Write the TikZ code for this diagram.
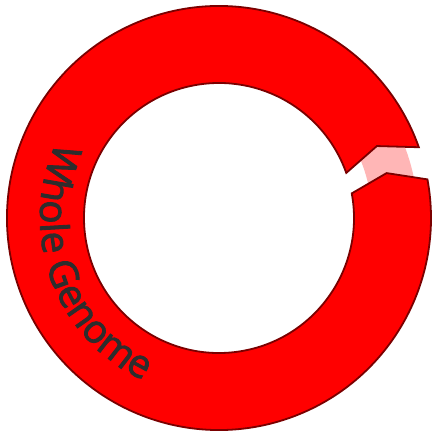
\documentclass[tikz,border=0pt]{standalone}
\usepackage{fontspec}
\newfontfamily\genomefont{Open Sans}[FakeBold=2.2]
\usetikzlibrary{decorations.text}

\definecolor{ringred}{RGB}{255,0,0}
\definecolor{ringedge}{RGB}{122,0,0}
\definecolor{gappink}{RGB}{255,182,182}
\definecolor{labelgrey}{RGB}{45,45,45}

\begin{document}
\begin{tikzpicture}[
    x=1pt, y=1pt,
    ring/.style={fill=ringred, draw=ringedge, line width=1.8pt, line join=miter},
    gapband/.style={fill=gappink, draw=none},
    genomelabel/.style={decorate, decoration={text along path, text align=center,
        text={|\genomefont\fontsize{39}{44}\selectfont\color{labelgrey}|Whole Genome}}},
]
    \useasboundingbox (0,0) rectangle (432,432);
    \coordinate (centre) at (219,214);

    \begin{scope}[shift={(centre)}]
        % pale band showing through the gap
        \path[gapband] (8:153pt) arc[start angle=8, end angle=27, radius=153pt]
            -- (27:199pt) arc[start angle=27, end angle=8, radius=199pt] -- cycle;

        % genome ring, notched tail at 19.5 and pointed head at 370.5
        \path[ring] (19.5:212pt) arc[start angle=19.5, end angle=370.5, radius=212pt]
            -- (375:173.5pt) -- (370.5:135pt)
            arc[start angle=370.5, end angle=19.5, radius=135pt]
            -- (24.5:173.5pt) -- cycle;

        % label along the left side
        \path[genomelabel] (150:179pt) arc[start angle=150, end angle=250, radius=179pt];
    \end{scope}
\end{tikzpicture}
\end{document}
